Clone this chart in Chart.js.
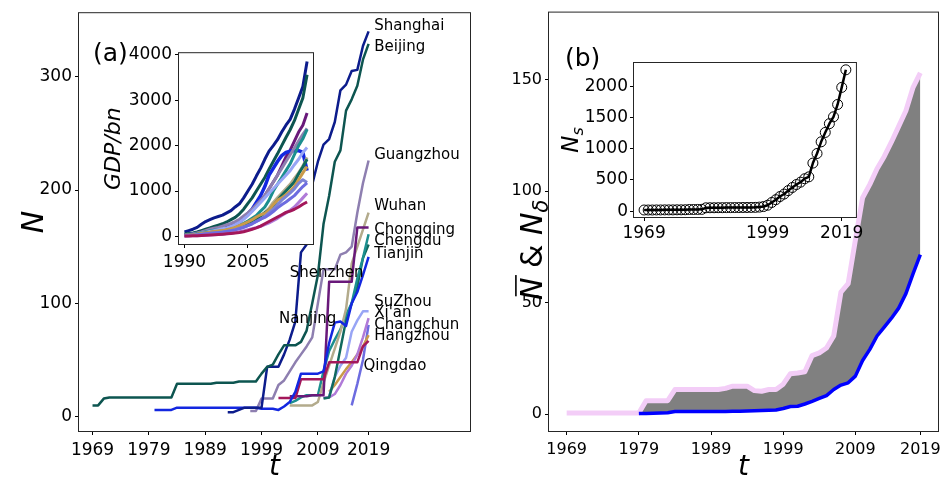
<!DOCTYPE html>
<html>
<head>
<meta charset="utf-8">
<title>Metro stations, GDP and network growth</title>
<script src="https://cdn.jsdelivr.net/npm/chart.js@4.4.1/dist/chart.umd.min.js"></script>
<style>
  html, body { margin: 0; padding: 0; background: #fff; }
  #fig { position: relative; width: 946px; height: 485px; overflow: hidden; background: #fff; }
  #fig canvas { position: absolute; }
</style>
</head>
<body>
<div id="fig">
  <canvas id="panelA" width="474" height="485" style="left:0px;top:0px;width:474px;height:485px"></canvas>
  <canvas id="panelB" width="466" height="485" style="left:480px;top:0px;width:466px;height:485px"></canvas>
  <canvas id="insetA" width="225" height="240" style="left:95px;top:40px;width:225px;height:240px"></canvas>
  <canvas id="insetB" width="318" height="200" style="left:548px;top:50px;width:318px;height:200px"></canvas>
</div>
<script>
// ── panel (a): number of stations N per city, one value per year index (0 = 1969) ──
const cityNames = ["Beijing", "Shanghai", "Tianjin", "Guangzhou", "Changchun", "Shenzhen",
                   "Wuhan", "Chongqing", "Chengdu", "Xi'an", "SuZhou", "Hangzhou", "Qingdao"];
const firstIdx = [0, 24, 11, 28, 33, 35, 35, 35, 41, 41, 42, 42, 46];

const nBeijing = [10, 10, 16, 17, 17, 17, 17, 17, 17, 17, 17, 17, 17, 17, 17,
                  29, 29, 29, 29, 29, 29, 29, 30, 30, 30, 30, 31, 31, 31, 31,
                  38, 44, 46, 55, 63, 63, 63, 66, 76,
                  100, 125, 170, 195, 225, 235, 270, 280, 292, 315, 329];
const nShanghai = [4, 4, 6, 8, 8, 8, 8, 44, 44, 44, 55, 68, 84, 145, 152, 205,
                   225, 240, 245, 260, 288, 293, 305, 306, 327, 340];
const nTianjin = [6, 6, 6, 6, 8, 8, 8, 8, 8, 8, 8, 8, 8, 8, 8, 8, 8, 8, 8,
                  7, 7, 7, 6, 9, 13, 22, 38, 38, 38, 38, 40, 65, 83, 84, 80, 100, 110, 125, 141];
const nGuangzhou = [5, 5, 16, 16, 16, 28, 32, 40, 48, 55, 62, 70, 100, 130, 130, 130,
                    143, 145, 150, 180, 206, 226];
const nChangchun = [16.5, 16.5, 16.5, 16.5, 33, 33, 33, 33, 33, 48, 48, 48, 48, 48, 48, 62, 67];
const nShenzhen = [18, 18, 18, 18, 19, 19, 19, 119, 119, 119, 119, 119, 167, 167, 167];
const nWuhan = [10, 10, 10, 10, 10, 13, 30, 45, 60, 75, 95, 135, 150, 165, 180];
const nChongqing = [12, 14, 17, 19, 19, 19, 40, 58, 68, 77, 90, 100, 122, 140, 161];
const nChengdu = [16, 17, 35, 60, 85, 100, 115, 140, 152];
const nXian = [17, 17, 20, 28, 38, 45, 55, 70, 87];
const nSuzhou = [18, 35, 45, 52, 75, 85, 93, 93];
const nHangzhou = [22, 28, 35, 42, 48, 55, 62, 72];
const nQingdao = [10, 29, 50, 81];
const nByCity = [nBeijing, nShanghai, nTianjin, nGuangzhou, nChangchun, nShenzhen,
                 nWuhan, nChongqing, nChengdu, nXian, nSuzhou, nHangzhou, nQingdao];

// city names written next to the lines (year index, N)
const tagText = ["Shanghai", "Beijing", "Guangzhou", "Wuhan", "Chongqing", "Chengdu", "Tianjin",
                 "Shenzhen", "SuZhou", "Xi'an", "Changchun", "Hangzhou", "Nanjing", "Qingdao"];
const tagIdx = [50, 50, 50, 50, 50, 50, 50, 35, 50, 50, 50, 50, 33.1, 48.1];
const tagN = [345, 326.5, 231, 186, 164.5, 155, 143.5, 126.5, 101.5, 91.3, 81, 71, 85.8, 45];

const yearTickIdx = [0, 10, 20, 30, 40, 49];
const yearTickText = ["1969", "1979", "1989", "1999", "2009", "2019"];
const nTicksA = [0, 100, 200, 300];

// ── inset (a): GDP in bn per city, 1990-2019 ──
const gdpYears = [1990, 1991, 1992, 1993, 1994, 1995, 1996, 1997, 1998, 1999,
                  2000, 2001, 2002, 2003, 2004, 2005, 2006, 2007, 2008, 2009,
                  2010, 2011, 2012, 2013, 2014, 2015, 2016, 2017, 2018, 2019];
const gdpNames = ["Changchun", "Xi'an", "Qingdao", "Nanjing", "Hangzhou", "Chengdu", "Wuhan",
                  "SuZhou", "Chongqing", "Guangzhou", "Tianjin", "Shenzhen", "Beijing", "Shanghai"];
const gdpChangchun = [10, 12, 15, 18, 22, 27, 32, 38, 45, 52, 60, 68, 78, 90, 105, 130, 160, 190, 230, 280,
                      330, 380, 430, 480, 530, 560, 600, 650, 710, 760];
const gdpXian = [10, 12, 15, 18, 22, 27, 32, 38, 45, 52, 60, 70, 85, 105, 125, 150, 170, 195, 225, 260,
                 300, 350, 400, 460, 520, 580, 650, 750, 850, 950];
const gdpQingdao = [15, 20, 25, 35, 45, 55, 65, 75, 85, 95, 110, 125, 145, 170, 200, 240, 280, 330, 380, 420,
                    480, 550, 630, 700, 760, 830, 900, 1000, 1100, 1180];
const gdpNanjing = [20, 25, 30, 40, 50, 60, 70, 80, 90, 100, 110, 130, 150, 180, 210, 240, 280, 330, 380, 440,
                    520, 600, 700, 800, 880, 960, 1050, 1170, 1250, 1190];
const gdpHangzhou = [25, 30, 40, 50, 65, 80, 95, 110, 120, 130, 150, 170, 200, 240, 280, 320, 370, 430, 480, 510,
                     580, 700, 800, 850, 920, 1000, 1100, 1250, 1400, 1540];
const gdpChengdu = [30, 35, 40, 50, 60, 75, 90, 100, 110, 120, 140, 160, 180, 200, 230, 270, 320, 380, 450, 520,
                    580, 680, 800, 900, 1000, 1100, 1200, 1380, 1530, 1700];
const gdpWuhan = [30, 35, 40, 50, 60, 70, 80, 95, 110, 120, 140, 160, 180, 200, 230, 270, 320, 380, 450, 530,
                  620, 750, 850, 950, 1050, 1150, 1280, 1400, 1550, 1740];
const gdpSuzhou = [20, 25, 35, 50, 70, 90, 110, 130, 150, 170, 190, 220, 260, 310, 380, 460, 550, 650, 750, 850,
                   950, 1050, 1150, 1250, 1350, 1450, 1580, 1700, 1850, 1960];
const gdpChongqing = [30, 35, 45, 60, 80, 100, 120, 140, 150, 160, 180, 200, 220, 250, 290, 340, 400, 460, 560, 650,
                      800, 1000, 1150, 1300, 1450, 1600, 1800, 2000, 2150, 2360];
const gdpGuangzhou = [35, 45, 60, 80, 100, 130, 160, 180, 200, 230, 260, 290, 330, 380, 450, 520, 600, 700, 800, 900,
                      1050, 1200, 1350, 1500, 1650, 1800, 1950, 2100, 2250, 2380];
const gdpTianjin = [35, 40, 50, 60, 80, 100, 120, 140, 150, 165, 190, 220, 260, 320, 400, 500, 600, 750, 900, 1100,
                    1350, 1500, 1650, 1780, 1850, 1880, 1890, 1890, 1850, 1450];
const gdpShenzhen = [15, 20, 30, 45, 60, 80, 100, 120, 140, 170, 200, 240, 280, 330, 400, 480, 580, 700, 800, 900,
                     1050, 1200, 1350, 1550, 1750, 1900, 2100, 2300, 2450, 2720];
const gdpBeijing = [55, 65, 80, 100, 130, 160, 190, 220, 250, 280, 320, 370, 420, 500, 600, 730, 850, 1000, 1150, 1300,
                    1480, 1650, 1820, 2000, 2180, 2350, 2550, 2800, 3050, 3560];
const gdpShanghai = [100, 130, 160, 200, 270, 330, 370, 410, 440, 470, 520, 570, 650, 720, 850, 1000, 1150, 1330, 1500, 1700,
                     1880, 2000, 2130, 2300, 2450, 2580, 2800, 3050, 3300, 3850];
const gdpByCity = [gdpChangchun, gdpXian, gdpQingdao, gdpNanjing, gdpHangzhou, gdpChengdu, gdpWuhan,
                   gdpSuzhou, gdpChongqing, gdpGuangzhou, gdpTianjin, gdpShenzhen, gdpBeijing, gdpShanghai];
const gdpTicksX = [1990, 2005];
const gdpTicksY = [0, 1000, 2000, 3000, 4000];

// ── panel (b): mean N (upper) and N_delta (lower), year index 0 = 1969 ──
const nMean = [0.5, 0.5, 0.5, 0.5, 0.5, 0.5, 0.5, 0.5, 0.5, 0.5, 0.5,
               6, 6, 6, 6,
               11, 11, 11, 11, 11, 11, 11,
               11.5, 12.5, 12.5, 12.5, 10.5, 10.2, 11, 11, 13.4, 18.1, 18.4, 19, 26.2, 27.4, 29.6, 35,
               54.7, 58.5, 78, 97, 103, 110, 115.5, 122, 129, 136, 146.5, 153];
const deltaFirstIdx = 10;
const nDelta = [0.2, 0.3, 0.4, 0.5, 0.6, 1.1, 1.1, 1.1, 1.1, 1.1, 1.1, 1.1, 1.1, 1.2, 1.3, 1.4, 1.5, 1.6, 1.7, 1.8,
                2.5, 3.4, 3.5, 4.5, 5.7, 7, 8.3, 11, 13, 14, 17, 24, 29, 35, 39, 43, 47.5, 54, 63, 71.5];
const nTicksB = [0, 50, 100, 150];

// ── inset (b): N_s per year index ──
const nSum = [20, 20, 20, 21, 21, 22, 22, 22, 23, 23, 24,
              28, 28, 29, 30,
              55, 56, 56, 57, 57, 58, 58, 59, 59, 60, 60, 61, 62,
              66, 75, 96, 140, 185, 235, 275, 330, 380, 427, 465, 520, 550,
              770, 923, 1110, 1260, 1400, 1510, 1707, 1980, 2261];
const sTickIdx = [0, 30, 48];
const sTickText = ["1969", "1999", "2019"];
const sTicksY = [0, 500, 1000, 1500, 2000];

// ── styles ──
const cityColors = {
    "Beijing": "#0d5550", "Shanghai": "#0c1c8c", "Tianjin": "#1327e0", "Guangzhou": "#8e7fb0",
    "Changchun": "#a3175a", "Shenzhen": "#69197a", "Wuhan": "#b3ab8c", "Chongqing": "#1c8f8f",
    "Chengdu": "#10695e", "Xi'an": "#b07ad8", "SuZhou": "#98a5f5", "Hangzhou": "#c99a4a",
    "Qingdao": "#6d6ce0", "Nanjing": "#7d84d6"
};
const FONT = "DejaVu Sans";
Chart.defaults.font.family = FONT;
Chart.defaults.color = "#000";
Chart.defaults.animation = false;

function ticksAt(values) {
    return s => { s.ticks = values.map(v => ({ value: v })); };
}
function sized(px) {
    return s => { if (s.isHorizontal()) s.height = px; else s.width = px; };
}
function axis(min, max, tickVals, fontSize, pad, size, labelFn, title) {
    return {
        type: "linear", min: min, max: max,
        afterBuildTicks: ticksAt(tickVals),
        afterFit: sized(size),
        grid: { drawOnChartArea: false, drawTicks: true, tickLength: 4, tickColor: "#000", tickWidth: 1 },
        border: { display: false },
        ticks: { font: { size: fontSize }, color: "#000", padding: pad, autoSkip: false, maxRotation: 0,
                 callback: labelFn || (v => String(v)) },
        title: title || { display: false }
    };
}
const idxLabel = (idx, txt) => v => { const k = idx.indexOf(v); return k < 0 ? "" : txt[k]; };

// spines on all four sides, optional white face for insets
const framePlugin = {
    id: "frame",
    beforeDraw(chart, args, opts) {
        if (!opts.white) return;
        const { ctx, chartArea: a } = chart;
        ctx.save();
        ctx.fillStyle = "#fff";
        ctx.fillRect(a.left, a.top, a.width, a.height);
        ctx.restore();
    },
    afterDraw(chart) {
        const { ctx, chartArea: a } = chart;
        ctx.save();
        ctx.strokeStyle = "#262626";
        ctx.lineWidth = 1;
        ctx.strokeRect(a.left - 0.5, a.top - 0.5, a.width + 1, a.height + 1);
        ctx.restore();
    }
};

// "(a)" / "(b)"
const panelTag = {
    id: "panelTag",
    afterDraw(chart, args, opts) {
        const { ctx, chartArea: a } = chart;
        ctx.save();
        ctx.font = "25px " + FONT;
        ctx.fillStyle = "#000";
        ctx.textAlign = "left";
        ctx.textBaseline = "middle";
        ctx.fillText(opts.text, a.left + opts.dx, a.top + opts.dy);
        ctx.restore();
    }
};

// city names next to the lines, placed through the scales
const cityTags = {
    id: "cityTags",
    afterDatasetsDraw(chart) {
        const { ctx, scales: { x, y } } = chart;
        ctx.save();
        ctx.font = "15px " + FONT;
        ctx.fillStyle = "#000";
        ctx.textAlign = "left";
        ctx.textBaseline = "middle";
        tagText.forEach((t, k) => ctx.fillText(t, x.getPixelForValue(tagIdx[k]), y.getPixelForValue(tagN[k])));
        ctx.restore();
    }
};

// rotated math-like label: main N, optional overline, rest, subscript
function mathLabel(ctx, cx, cy, size, parts) {
    ctx.save();
    ctx.translate(cx, cy);
    ctx.rotate(-Math.PI / 2);
    ctx.fillStyle = "#000";
    ctx.textBaseline = "alphabetic";
    const widths = parts.map(p => { ctx.font = p.font; return ctx.measureText(p.t).width; });
    const total = widths.reduce((s, w) => s + w, 0);
    let x = -total / 2;
    const base = size * 0.36;
    parts.forEach((p, k) => {
        ctx.font = p.font;
        ctx.fillText(p.t, x, base + (p.dy || 0));
        if (p.bar) ctx.fillRect(x + size * 0.12, base - size * 0.73 - size * 0.16, widths[k] - size * 0.04, 1.6);
        x += widths[k];
    });
    ctx.restore();
}
const bTitle = {
    id: "bTitle",
    afterDraw(chart) {
        const a = chart.chartArea, s = 30;
        mathLabel(chart.ctx, a.left - 18, (a.top + a.bottom) / 2 + 28, s, [
            { t: "N", font: "italic " + s + "px " + FONT, bar: true },
            { t: " & ", font: s + "px " + FONT },
            { t: "N", font: "italic " + s + "px " + FONT },
            { t: "\u03b4", font: "italic " + Math.round(s * 0.7) + "px " + FONT, dy: s * 0.2 }
        ]);
    }
};
const sTitle = {
    id: "sTitle",
    afterDraw(chart) {
        const a = chart.chartArea, s = 23;
        mathLabel(chart.ctx, a.left - 64, (a.top + a.bottom) / 2, s, [
            { t: "N", font: "italic " + s + "px " + FONT },
            { t: "s", font: "italic " + Math.round(s * 0.7) + "px " + FONT, dy: s * 0.2 }
        ]);
    }
};

const baseOpts = {
    responsive: false,
    events: [],
    plugins: { legend: { display: false }, tooltip: { enabled: false } },
    elements: { point: { radius: 0 }, line: { tension: 0, borderJoinStyle: "round" } }
};

// ── panel (a) ──
new Chart(document.getElementById("panelA"), {
    type: "line",
    data: {
        datasets: cityNames.map((name, k) => ({
            label: name,
            data: nByCity[k].map((v, j) => ({ x: firstIdx[k] + j, y: v })),
            borderColor: cityColors[name],
            borderWidth: 2.5,
            fill: false
        }))
    },
    options: Object.assign({}, baseOpts, {
        layout: { padding: { top: 8, right: 4, left: 0, bottom: 0 } },
        scales: {
            x: axis(-2.4, 67, yearTickIdx, 17, 5, 54, idxLabel(yearTickIdx, yearTickText),
                    { display: true, text: "t", font: { size: 28, style: "italic" }, padding: { top: 0, bottom: 0 } }),
            y: axis(-12.6, 356, nTicksA, 17, 3, 79, null,
                    { display: true, text: "N", font: { size: 30, style: "italic" }, padding: { top: 17, bottom: 0 } })
        },
        plugins: Object.assign({}, baseOpts.plugins, { panelTag: { text: "(a)", dx: 14, dy: 41 } })
    }),
    plugins: [framePlugin, cityTags, panelTag]
});

// ── inset (a) ──
new Chart(document.getElementById("insetA"), {
    type: "line",
    data: {
        datasets: gdpNames.map((name, k) => ({
            label: name,
            data: gdpByCity[k].map((v, j) => ({ x: gdpYears[j], y: v })),
            borderColor: cityColors[name],
            borderWidth: name === "Tianjin" ? 3.5 : 3,
            fill: false
        }))
    },
    options: Object.assign({}, baseOpts, {
        layout: { padding: { top: 12, right: 7, left: 0, bottom: 0 } },
        scales: {
            x: axis(1988.7, 2020.4, gdpTicksX, 17, 4, 36),
            y: axis(-165, 4035, gdpTicksY, 17, 3, 84, null,
                    { display: true, text: "GDP/bn", font: { size: 22, style: "italic" }, padding: { top: 6, bottom: 0 } })
        },
        plugins: Object.assign({}, baseOpts.plugins, { frame: { white: true } })
    }),
    plugins: [framePlugin]
});

// ── panel (b) ──
const meanFromDelta = nMean.slice(deltaFirstIdx);
new Chart(document.getElementById("panelB"), {
    type: "line",
    data: {
        datasets: [
            {
                label: "N delta",
                data: nDelta.map((v, j) => ({ x: deltaFirstIdx + j, y: v })),
                borderColor: "#0000ff", borderWidth: 3.5, fill: false, order: 0
            },
            {
                label: "N mean",
                data: nMean.map((v, j) => ({ x: j, y: v })),
                borderColor: "#f3cdf7", borderWidth: 5, fill: false, order: 1
            },
            {
                label: "gap",
                data: meanFromDelta.map((v, j) => ({ x: deltaFirstIdx + j, y: v })),
                borderWidth: 0, borderColor: "rgba(0,0,0,0)",
                backgroundColor: "#808080", fill: 0, order: 2
            }
        ]
    },
    options: Object.assign({}, baseOpts, {
        layout: { padding: { top: 8, right: 7, left: 0, bottom: 0 } },
        scales: {
            x: axis(-2.45, 51.45, yearTickIdx, 16, 5, 54, idxLabel(yearTickIdx, yearTickText),
                    { display: true, text: "t", font: { size: 28, style: "italic" }, padding: { top: 0, bottom: 0 } }),
            y: axis(-7.6, 180, nTicksB, 16, 3, 69)
        },
        plugins: Object.assign({}, baseOpts.plugins, { panelTag: { text: "(b)", dx: 16, dy: 47 } })
    }),
    plugins: [framePlugin, bTitle, panelTag]
});

// ── inset (b) ──
new Chart(document.getElementById("insetB"), {
    type: "line",
    data: {
        datasets: [{
            label: "N_s",
            data: nSum.map((v, j) => ({ x: j, y: v })),
            borderColor: "#000", borderWidth: 2.5, fill: false,
            pointRadius: 5, pointStyle: "circle", pointBorderColor: "#000",
            pointBorderWidth: 1, pointBackgroundColor: "rgba(0,0,0,0)"
        }]
    },
    options: Object.assign({}, baseOpts, {
        layout: { padding: { top: 13, right: 10, left: 0, bottom: 0 } },
        scales: {
            x: axis(-2.45, 51.45, sTickIdx, 17, 2, 33, idxLabel(sTickIdx, sTickText)),
            y: axis(-92, 2370, sTicksY, 17, 2, 86)
        },
        plugins: Object.assign({}, baseOpts.plugins, { frame: { white: true } })
    }),
    plugins: [framePlugin, sTitle]
});
</script>
</body>
</html>
